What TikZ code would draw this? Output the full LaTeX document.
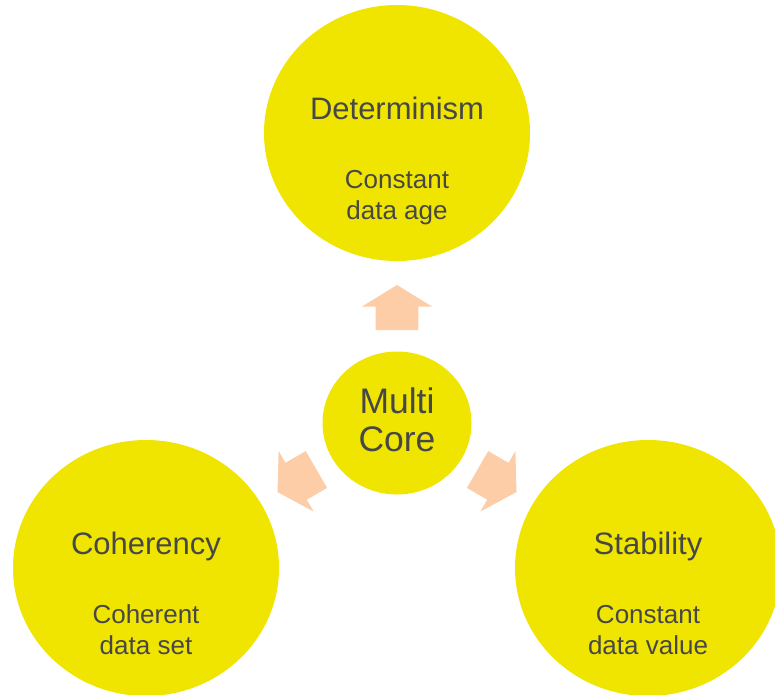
\documentclass[tikz,border=0pt]{standalone}
\usepackage{fontspec}
\setmainfont{Liberation Sans}
\usetikzlibrary{shapes.geometric,calc}
\definecolor{disc}{HTML}{F0E500}
\definecolor{peach}{HTML}{FDCDA8}
\definecolor{ink}{HTML}{474747}
\tikzset{
  pics/pusharrow/.style={code={
    \fill[peach] (93,-21.3) -- (116.5,-21.3) -- (116.5,-35) -- (138,0)
      -- (116.5,35) -- (116.5,21.3) -- (93,21.3) -- cycle;}}
}
\begin{document}
\begin{tikzpicture}[x=1pt,y=-1pt,
  bigdisc/.style={ellipse, fill=disc, draw=none, minimum width=266pt, minimum height=256pt, inner sep=0pt},
  hubdisc/.style={ellipse, fill=disc, draw=none, minimum width=149pt, minimum height=143pt, inner sep=0pt},
  title/.style={anchor=base, text=ink, font=\fontsize{31}{37}\selectfont, inner sep=0pt},
  detail/.style={anchor=base, text=ink, font=\fontsize{26}{30}\selectfont, inner sep=0pt},
  hubtext/.style={anchor=base, text=ink, font=\fontsize{35.5}{38}\selectfont, inner sep=0pt}]
\useasboundingbox (0,0) rectangle (775,694);
\clip (0,0) rectangle (775,694);

% the three outer discs
\node[bigdisc] (det) at (397,133) {};
\node[bigdisc] (coh) at (146,568) {};
\node[bigdisc] (stab) at (648,568) {};

% central disc
\node[hubdisc] (hub) at (397,423) {};

% block arrows pointing outwards from the centre
\pic (toDet) at (hub.center) [rotate=90] {pusharrow};
\pic (toCoh) at (hub.center) [rotate=210] {pusharrow};
\pic (toStab) at (hub.center) [rotate=330] {pusharrow};

% labels
\node[hubtext] (hubA) at ($(hub.center)+(0,-9.3)$) {Multi};
\node[hubtext] (hubB) at ($(hub.center)+(0,28.7)$) {Core};

\node[title] (detT) at ($(det.center)+(0,-13.7)$) {Determinism};
\node[detail] (detA) at ($(det.center)+(0,55.5)$) {Constant};
\node[detail] (detB) at ($(det.center)+(0,86.5)$) {data age};

\node[title] (cohT) at ($(coh.center)+(0,-13.3)$) {Coherency};
\node[detail] (cohA) at ($(coh.center)+(0,55.5)$) {Coherent};
\node[detail] (cohB) at ($(coh.center)+(0,86.5)$) {data set};

\node[title] (stabT) at ($(stab.center)+(0,-13.3)$) {Stability};
\node[detail] (stabA) at ($(stab.center)+(0,55.5)$) {Constant};
\node[detail] (stabB) at ($(stab.center)+(0,86.5)$) {data value};
\end{tikzpicture}
\end{document}
